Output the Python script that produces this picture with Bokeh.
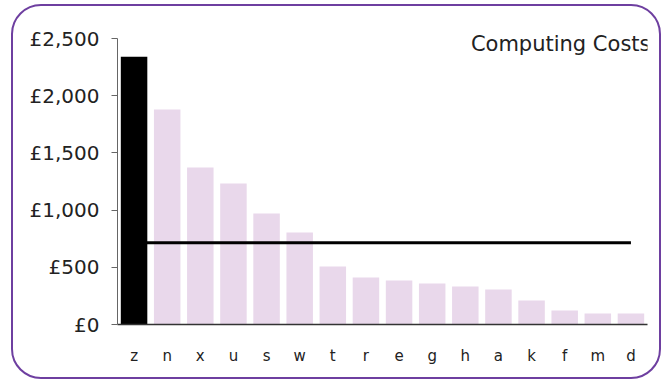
from bokeh.plotting import figure
from bokeh.models import ColumnDataSource, Label, FixedTicker, Range1d
from bokeh.embed import file_html
from bokeh.resources import INLINE

categories = ["z", "n", "x", "u", "s", "w", "t", "r", "e", "g", "h", "a", "k", "f", "m", "d"]
costs = [2340, 1880, 1372, 1232, 970, 804, 507, 411, 385, 358, 332, 306, 210, 122, 96, 96]
highlight = ["z"]
y_ticks = [0, 500, 1000, 1500, 2000, 2500]
y_tick_labels = ["£0", "£500", "£1,000", "£1,500", "£2,000", "£2,500"]
title_text = "Computing Costs"

PINK = "#e9d8eb"
FONT = "DejaVu Sans"

# layout: axis spans 286px; frame extended 20px above it so the title is not clipped
AXIS_PX = 286
EXTRA_PX = 20
y_max = y_ticks[-1]
y_end = y_max * (AXIS_PX + EXTRA_PX) / AXIS_PX

colors = ["#000000" if c in highlight else PINK for c in categories]
source = ColumnDataSource(dict(cat=categories, cost=costs, color=colors))
mean_cost = sum(costs) / len(costs)

p = figure(x_range=categories, y_range=Range1d(0, y_end), width=650, height=375,
           output_backend="svg", toolbar_location=None,
           min_border_left=104, min_border_right=16, min_border_top=32 - EXTRA_PX, min_border_bottom=57,
           styles={"border": "2px solid #6e3fa0", "border-radius": "30px",
                   "margin-left": "11px", "margin-top": "4px"})
p.x_range.range_padding = 0
p.outline_line_color = None
p.grid.visible = False
p.background_fill_color = None
p.border_fill_color = None

p.vbar(x="cat", top="cost", width=0.8, color="color", line_color=None, source=source)
p.line(x=[categories[0], categories[-1]], y=[mean_cost, mean_cost], line_color="black", line_width=3)

yax = p.yaxis[0]
yax.ticker = FixedTicker(ticks=y_ticks)
yax.bounds = (0, y_max)
yax.major_label_overrides = {t: lab for t, lab in zip(y_ticks, y_tick_labels)}
yax.minor_tick_line_color = None
yax.major_tick_in = 0
yax.major_tick_out = 6
yax.axis_line_color = "#666666"
yax.major_tick_line_color = "#666666"
yax.major_label_text_font = FONT
yax.major_label_text_font_size = "20px"
yax.major_label_text_color = "#222222"
yax.major_label_standoff = 12

xax = p.xaxis[0]
xax.major_tick_line_color = None
xax.minor_tick_line_color = None
xax.axis_line_color = "#333333"
xax.axis_line_width = 1.5
xax.major_label_text_font = FONT
xax.major_label_text_font_size = "15px"
xax.major_label_text_color = "#222222"
xax.major_label_standoff = 16

p.add_layout(Label(x=len(categories), y=2450, x_offset=3, text=title_text, text_align="right",
                   text_baseline="alphabetic", text_font=FONT, text_font_size="21px",
                   text_color="#222222"))

open("out.html", "w").write(file_html(p, INLINE))
